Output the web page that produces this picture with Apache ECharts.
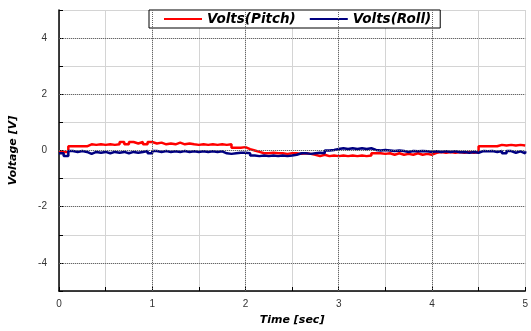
<!DOCTYPE html>
<html>
<head>
<meta charset="utf-8">
<script src="https://cdn.jsdelivr.net/npm/echarts@6/dist/echarts.min.js"></script>
<style>
html, body { margin: 0; padding: 0; background: #fff; }
#chart { width: 531px; height: 331px; }
</style>
</head>
<body>
<div id="chart"></div>
<script>
// time [sec]
var timeSec = [
  0.00, 0.05, 0.10, 0.15, 0.20, 0.25, 0.30, 0.35, 0.40, 0.45,
  0.50, 0.55, 0.60, 0.65, 0.70, 0.75, 0.80, 0.85, 0.90, 0.95,
  1.00, 1.05, 1.10, 1.15, 1.20, 1.25, 1.30, 1.35, 1.40, 1.45,
  1.50, 1.55, 1.60, 1.65, 1.70, 1.75, 1.80, 1.85, 1.90, 1.95,
  2.00, 2.05, 2.10, 2.15, 2.20, 2.25, 2.30, 2.35, 2.40, 2.45,
  2.50, 2.55, 2.60, 2.65, 2.70, 2.75, 2.80, 2.85, 2.90, 2.95,
  3.00, 3.05, 3.10, 3.15, 3.20, 3.25, 3.30, 3.35, 3.40, 3.45,
  3.50, 3.55, 3.60, 3.65, 3.70, 3.75, 3.80, 3.85, 3.90, 3.95,
  4.00, 4.05, 4.10, 4.15, 4.20, 4.25, 4.30, 4.35, 4.40, 4.45,
  4.50, 4.55, 4.60, 4.65, 4.70, 4.75, 4.80, 4.85, 4.90, 4.95,
  5.00
]
// Volts(Pitch)
var pitchVolts = [
  -0.05, -0.05, 0.15, 0.15, 0.15, 0.15, 0.22, 0.20, 0.22, 0.20,
  0.22, 0.20, 0.22, 0.30, 0.22, 0.30, 0.25, 0.30, 0.22, 0.30,
  0.25, 0.28, 0.22, 0.25, 0.22, 0.28, 0.22, 0.25, 0.22, 0.20,
  0.22, 0.20, 0.22, 0.20, 0.22, 0.20, 0.22, 0.10, 0.10, 0.12,
  0.05, 0.00, -0.05, -0.10, -0.10, -0.08, -0.10, -0.10, -0.12, -0.10,
  -0.10, -0.12, -0.10, -0.12, -0.15, -0.20, -0.15, -0.20, -0.18, -0.20,
  -0.18, -0.20, -0.18, -0.20, -0.18, -0.20, -0.18, -0.10, -0.10, -0.12,
  -0.10, -0.15, -0.10, -0.15, -0.12, -0.15, -0.10, -0.15, -0.12, -0.15,
  -0.08, -0.05, -0.08, -0.05, -0.08, -0.05, -0.08, -0.05, -0.08, -0.05,
  0.15, 0.15, 0.15, 0.15, 0.20, 0.18, 0.20, 0.18, 0.20, 0.18,
  0.20
]
// Volts(Roll)
var rollVolts = [
  -0.10, -0.20, -0.02, -0.05, -0.02, -0.05, -0.12, -0.05, -0.08, -0.05,
  -0.10, -0.05, -0.08, -0.05, -0.10, -0.05, -0.08, -0.05, -0.02, -0.10,
  -0.02, -0.05, -0.02, -0.05, -0.03, -0.05, -0.02, -0.05, -0.03, -0.05,
  -0.03, -0.05, -0.03, -0.05, -0.03, -0.10, -0.12, -0.10, -0.08, -0.08,
  -0.10, -0.18, -0.20, -0.18, -0.20, -0.18, -0.20, -0.18, -0.20, -0.18,
  -0.15, -0.10, -0.10, -0.12, -0.10, -0.08, -0.10, 0.00, 0.02, 0.05,
  0.08, 0.05, 0.08, 0.05, 0.08, 0.05, 0.08, 0.02, 0.00, 0.02,
  0.00, -0.02, 0.00, -0.02, -0.05, -0.02, -0.03, -0.02, -0.03, -0.05,
  -0.03, -0.05, -0.03, -0.05, -0.03, -0.06, -0.05, -0.08, -0.05, -0.08,
  -0.02, -0.03, -0.02, -0.05, -0.02, -0.10, -0.02, -0.08, -0.03, -0.10,
  -0.03
]
// major grid lines
var yMajor = [-4, -2, 0, 2, 4]
var xMajor = [1, 2, 3, 4]

function pairs (xs, ys) {
  var out = []
  for (var i = 0; i < xs.length; i++) out.push([xs[i], ys[i]])
  return out
}

var myChart = echarts.init(document.getElementById('chart'))
var labelFont = 'Liberation Sans, Arial, sans-serif'
var titleFont = {
  fontFamily: 'DejaVu Sans',
  fontWeight: 'bold',
  fontStyle: 'italic',
  fontSize: 11,
  color: '#000'
}
var gridMarks = []
yMajor.forEach(function (v) { gridMarks.push({ yAxis: v }) })
xMajor.forEach(function (v) { gridMarks.push({ xAxis: v }) })

var option = {
  backgroundColor: '#fff',
  animation: false,
  grid: { left: 59, right: 2, top: 10, bottom: 38 },
  legend: {
    left: 149,
    top: 10,
    padding: [2, 9, 2, 15],
    itemGap: 14,
    itemWidth: 38,
    itemHeight: 2,
    icon: 'rect',
    borderColor: '#000',
    borderWidth: 1,
    backgroundColor: '#fff',
    textStyle: {
      fontFamily: 'DejaVu Sans',
      fontWeight: 'bold',
      fontStyle: 'italic',
      fontSize: 13.5,
      color: '#000'
    },
    data: ['Volts(Pitch)', 'Volts(Roll)']
  },
  xAxis: {
    type: 'value',
    min: 0,
    max: 5,
    interval: 0.5,
    name: 'Time [sec]',
    nameLocation: 'middle',
    nameGap: 24,
    nameTextStyle: titleFont,
    axisLine: { show: true, onZero: false, lineStyle: { color: '#000', width: 1.5 } },
    axisTick: { inside: true, length: 4, lineStyle: { color: '#000' } },
    axisLabel: {
      color: '#333',
      fontFamily: labelFont,
      fontSize: 10,
      margin: 8,
      formatter: function (v) { return v % 1 === 0 ? String(v) : '' }
    },
    splitLine: { show: true, lineStyle: { color: '#d4d4d4', width: 1 } }
  },
  yAxis: {
    type: 'value',
    min: -5,
    max: 5,
    interval: 1,
    name: 'Voltage [V]',
    nameLocation: 'middle',
    nameGap: 40,
    nameTextStyle: titleFont,
    axisLine: { show: true, onZero: false, lineStyle: { color: '#000', width: 1.5 } },
    axisTick: { inside: true, length: 4, lineStyle: { color: '#000' } },
    axisLabel: {
      color: '#333',
      fontFamily: labelFont,
      fontSize: 10,
      margin: 12,
      formatter: function (v) { return v % 2 === 0 ? String(v) : '' }
    },
    splitLine: { show: true, lineStyle: { color: '#d4d4d4', width: 1 } }
  },
  series: [
    {
      name: 'grid',
      type: 'line',
      data: [],
      silent: true,
      markLine: {
        silent: true,
        symbol: 'none',
        label: { show: false },
        animation: false,
        lineStyle: { color: '#666', type: [1, 1], width: 1 },
        data: gridMarks
      }
    },
    {
      name: 'Volts(Pitch)',
      type: 'line',
      step: 'end',
      symbol: 'none',
      color: '#ff0000',
      lineStyle: { width: 2.5 },
      data: pairs(timeSec, pitchVolts)
    },
    {
      name: 'Volts(Roll)',
      type: 'line',
      step: 'end',
      symbol: 'none',
      color: '#000080',
      lineStyle: { width: 2.5 },
      data: pairs(timeSec, rollVolts)
    }
  ]
}
myChart.setOption(option)
</script>
</body>
</html>
